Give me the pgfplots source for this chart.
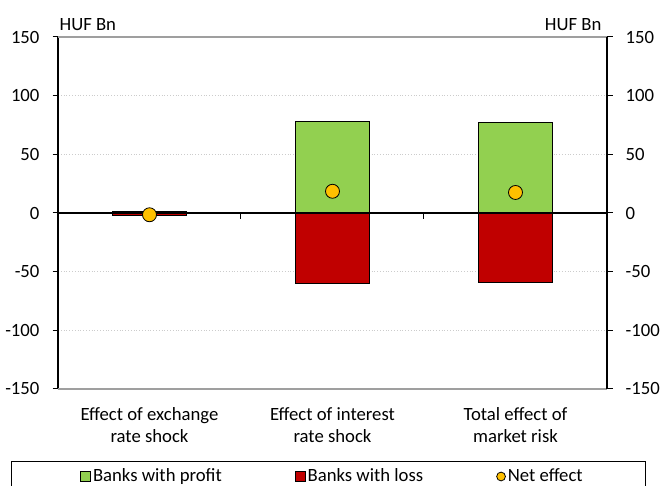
\documentclass[border=0pt]{standalone}
\usepackage{fontspec}
\setmainfont{Carlito}
\usepackage{pgfplots}
\pgfplotsset{compat=1.18}
\definecolor{profit}{HTML}{92D050}
\definecolor{loss}{HTML}{C00000}
\definecolor{net}{HTML}{FFC000}
\begin{document}
\begin{tikzpicture}[font=\fontsize{9.35}{11}\selectfont]
\begin{axis}[
  at={(0,0)}, anchor=south west,
  scale only axis, width=274.5pt, height=176pt,
  clip=false,
  xmin=-0.5, xmax=2.5, ymin=-150, ymax=150,
  xtick={0,1,2},
  xticklabels={{Effect of exchange\\rate shock},{Effect of interest\\rate shock},{Total effect of\\market risk}},
  xticklabel style={align=center, font=\fontsize{9.35}{11}\selectfont, yshift=-3pt},
  x tick style={draw=none},
  ytick={-150,-100,...,150},
  ytick pos=left,
  yticklabel pos=left,
  tick align=outside,
  major tick length=2.75pt,
  y tick style={black, line width=0.5pt},
  yticklabel style={xshift=-3pt},
  ymajorgrids,
  grid style={densely dotted, gray!40, line width=0.5pt},
  separate axis lines,
  x axis line style={draw=none},
  y axis line style={black, line width=0.6pt},
  /pgf/number format/assume math mode=true,
  legend style={at={(axis description cs:0.0405,-0.2486)}, anchor=west, draw=none, fill=none,
    inner sep=0pt, outer sep=0pt, font=\fontsize{9.35}{11}\selectfont,
    legend columns=3,
    nodes={inner xsep=1pt, inner ysep=0pt},
    /tikz/every even column/.append style={column sep=35.5pt}},
  legend cell align=left,
]
\draw[gray!75, line width=0.6pt] (rel axis cs:0,1) -- (rel axis cs:1,1);
\draw[gray!75, line width=0.6pt] (rel axis cs:0,0) -- (rel axis cs:1,0);
\addplot[ybar, bar width=37pt, bar shift=0pt, fill=profit, draw=black, line width=0.5pt,
  legend image code/.code={\draw[fill=profit, draw=black, line width=0.4pt] (0pt,-2.5pt) rectangle (5pt,2.5pt);}]
  coordinates {(0,1) (1,78) (2,77)};
\addlegendentry{Banks with profit}
\addplot[ybar, bar width=37pt, bar shift=0pt, fill=loss, draw=black, line width=0.5pt,
  legend image code/.code={\draw[fill=loss, draw=black, line width=0.4pt] (0pt,-2.5pt) rectangle (5pt,2.5pt);}]
  coordinates {(0,-2.5) (1,-60) (2,-59.5)};
\addlegendentry{Banks with loss}
\draw[black, line width=0.6pt] (axis cs:-0.5,0) -- (axis cs:2.5,0);
\draw[black, line width=0.5pt] (axis cs:0.5,0) -- ([yshift=-3pt]axis cs:0.5,0);
\draw[black, line width=0.5pt] (axis cs:1.5,0) -- ([yshift=-3pt]axis cs:1.5,0);
\addplot[only marks, mark=*, mark size=3.5pt, mark options={fill=net, draw=black, line width=0.4pt},
  legend image code/.code={\filldraw[fill=net, draw=black, line width=0.4pt] (2.2pt,0pt) circle (2.2pt);}]
  coordinates {(0,-1.5) (1,18.5) (2,17.5)};
\addlegendentry{Net effect}
\node[anchor=west, inner sep=0pt] at (rel axis cs:0,1) [xshift=0.6pt, yshift=6pt] {HUF Bn};
\node[anchor=east, inner sep=0pt] at (rel axis cs:1,1) [xshift=-2.6pt, yshift=6pt] {HUF Bn};
\end{axis}
\begin{axis}[
  at={(0,0)}, anchor=south west,
  scale only axis, width=274.5pt, height=176pt,
  xmin=-0.5, xmax=2.5, ymin=-150, ymax=150,
  axis x line=none,
  axis y line*=right,
  ytick={-150,-100,...,150},
  tick align=outside,
  major tick length=2.75pt,
  y tick style={black, line width=0.5pt},
  yticklabel style={xshift=3pt},
  y axis line style={black, line width=0.6pt},
  /pgf/number format/assume math mode=true,
]
\end{axis}
\draw[black, line width=0.5pt] (-23.15pt,-36.5pt) rectangle (293.5pt,-62pt);
\pgfresetboundingbox
\path (-29pt,-48.5pt) rectangle (301pt,194.5pt);
\end{tikzpicture}
\end{document}
